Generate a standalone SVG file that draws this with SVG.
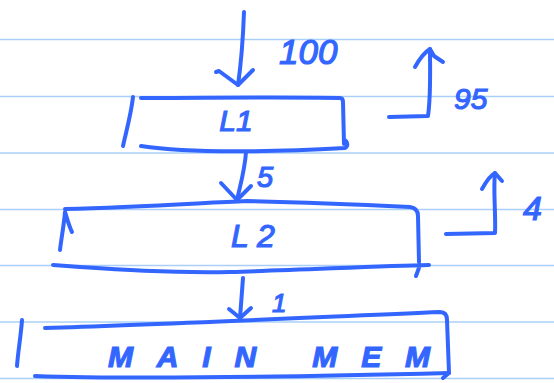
<svg xmlns="http://www.w3.org/2000/svg" width="554" height="383" viewBox="0 0 554 383">
<style>
.rule{stroke:#aad0f7;stroke-width:1.5}
.ink{fill:none;stroke:#3366ff;stroke-width:4;stroke-linecap:round;stroke-linejoin:round}
.t{fill:#3366ff;stroke:#3366ff;stroke-width:1.2;font-family:"Liberation Sans",Arial,sans-serif;font-style:italic}
</style>
<rect width="554" height="383" fill="#ffffff"/>
<g id="paper">
<line class="rule" x1="0" y1="39.5" x2="554" y2="39.5"/>
<line class="rule" x1="0" y1="96.5" x2="554" y2="96.5"/>
<line class="rule" x1="0" y1="153" x2="554" y2="153"/>
<line class="rule" x1="0" y1="209.5" x2="554" y2="209.5"/>
<line class="rule" x1="0" y1="265.5" x2="554" y2="265.5"/>
<line class="rule" x1="0" y1="322" x2="554" y2="322"/>
<line class="rule" x1="0" y1="378.5" x2="554" y2="378.5"/>
</g>
<g id="connectors">
<path class="ink" d="M244,12 C243,40 241,64 238,85"/>
<path class="ink" d="M216,72 L219,71 L238,85 L253,70"/>
<path class="ink" d="M246,152 C245,170 239,190 237,200"/>
<path class="ink" d="M221,183 L237,200 L251,186"/>
<path class="ink" d="M243,278 C242,292 241,305 240,318"/>
<path class="ink" d="M229,309 L240,318 L251,308"/>
<path class="ink" d="M389,117 L428,116 C431,95 430,70 430,49"/>
<path class="ink" d="M415,67 C420,58 425,52 430,49 L434,56 L443,62"/>
<path class="ink" d="M446,234 L495,233 C496,215 493,190 495,173"/>
<path class="ink" d="M482,189 C487,180 491,175 495,173 L502,181"/>
<text class="t" x="279" y="64" font-size="35">100</text>
<text class="t" x="454" y="109" font-size="30">95</text>
<text class="t" x="257" y="187" font-size="29">5</text>
<text class="t" x="523" y="220" font-size="34">4</text>
<text class="t" x="272" y="312" font-size="26">1</text>
</g>
<g id="L1">
<path class="ink" d="M133,97 C131,115 126,132 123,146"/>
<path class="ink" d="M141,98 C200,98 280,97 340,98 Q343,98 343,102 L344,144"/>
<path class="ink" d="M141,146 C180,152 250,153 345,148 C349,146 347,141 344,140"/>
<text class="t" x="236" y="131" font-size="30" text-anchor="middle">L1</text>
</g>
<g id="L2">
<path class="ink" d="M72,232 C69,226 67,218 65,212 C64,225 61,240 60,250"/>
<path class="ink" d="M65,209 C140,207 200,203 247,201 C300,202 370,205 410,207 Q418,208 418,216 L419,262"/>
<path class="ink" d="M53,265 C120,270 170,273 230,272 C300,270 380,266 429,265 M420,265 L416,276"/>
<text class="t" x="231" y="247" font-size="32">L 2</text>
</g>
<g id="MainMem">
<path class="ink" d="M22,320 C21,335 18,352 17,366"/>
<path class="ink" d="M45,328 C150,325 300,318 440,312 Q447,312 447,320 L449,373 L443,378"/>
<path class="ink" d="M35,376 C120,379 250,378 449,373"/>
<text class="t" x="108" y="367" font-size="30" font-weight="bold" textLength="322" lengthAdjust="spacing">MAIN  MEM</text>
</g>
</svg>
